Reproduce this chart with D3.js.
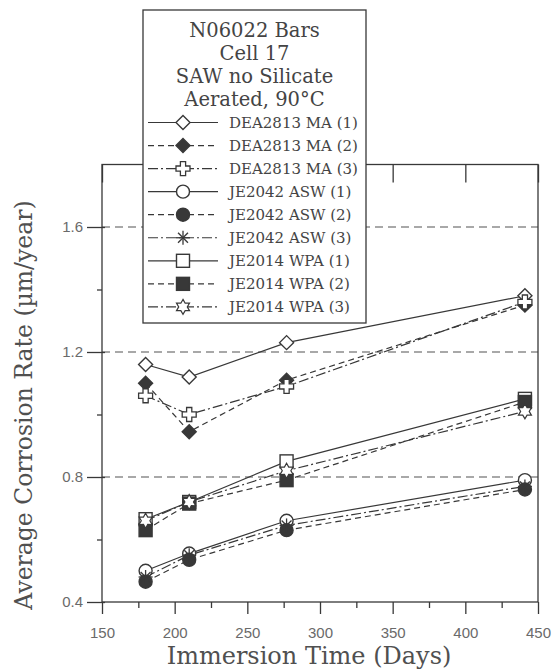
<!DOCTYPE html>
<html>
  <head>
    <meta charset="utf-8">
    <style>
      body { margin: 0; background: #fff; }
      svg { display: block; }
    </style>
    <script src="https://cdn.jsdelivr.net/npm/d3@7"></script>
  </head>
  <body>
    <script>
      // data
      var days = [180, 210, 277, 441];
      var dea1 = [1.16, 1.12, 1.23, 1.38];
      var dea2 = [1.10, 0.945, 1.11, 1.35];
      var dea3 = [1.06, 1.00, 1.09, 1.36];
      var asw1 = [0.50, 0.555, 0.66, 0.79];
      var asw2 = [0.465, 0.535, 0.63, 0.76];
      var asw3 = [0.48, 0.55, 0.645, 0.77];
      var wpa1 = [0.665, 0.72, 0.85, 1.05];
      var wpa2 = [0.63, 0.715, 0.79, 1.04];
      var wpa3 = [0.66, 0.72, 0.82, 1.01];
      var seriesNames = ["DEA2813 MA (1)", "DEA2813 MA (2)", "DEA2813 MA (3)",
                         "JE2042 ASW (1)", "JE2042 ASW (2)", "JE2042 ASW (3)",
                         "JE2014 WPA (1)", "JE2014 WPA (2)", "JE2014 WPA (3)"];
      var seriesValues = [dea1, dea2, dea3, asw1, asw2, asw3, wpa1, wpa2, wpa3];
      var markerKinds = ["diamond", "diamondFill", "plus", "circle", "circleFill",
                         "asterisk", "square", "squareFill", "hexagram"];
      var xTicks = [150, 200, 250, 300, 350, 400, 450];
      var xMinorTicks = [175, 225, 275, 325, 375, 425];
      var yTicks = [0.4, 0.8, 1.2, 1.6];
      var yMinorTicks = [0.6, 1.0, 1.4];
      var legendTitle = ["N06022 Bars", "Cell 17", "SAW no Silicate", "Aerated, 90\u00b0C"];

      var W = 556, H = 669;
      var ink = "#383838";
      var dashes = ["none", "6,4", "10,3,2,3"];

      var x = d3.scaleLinear().domain([150, 450]).range([102, 538]);
      var y = d3.scaleLinear().domain([0.4, 1.8]).range([602, 164.5]);

      var svg = d3.select("body").append("svg")
                  .attr("width", W).attr("height", H);

      // dashed grid lines at the major ticks
      svg.selectAll("line.grid")
         .data(yTicks.slice(1)).enter().append("line")
         .attr("class", "grid")
         .attr("x1", x(150)).attr("x2", x(450))
         .attr("y1", function(d) { return y(d); })
         .attr("y2", function(d) { return y(d); })
         .attr("stroke", "#8c8c8c").attr("stroke-width", 1.3)
         .attr("stroke-dasharray", "8,5");

      // frame
      svg.append("rect")
         .attr("x", x(150)).attr("y", y(1.8))
         .attr("width", x(450) - x(150)).attr("height", y(0.4) - y(1.8))
         .attr("fill", "none").attr("stroke", ink).attr("stroke-width", 1.3);

      // bottom axis
      var xAxis = d3.axisBottom(x).tickValues(xTicks).tickSize(12).tickPadding(13)
                    .tickFormat(d3.format("d"));
      svg.append("g").attr("transform", "translate(0," + y(0.4) + ")").call(xAxis)
         .select(".domain").remove();
      svg.append("g").attr("transform", "translate(0," + y(0.4) + ")")
         .call(d3.axisBottom(x).tickValues(xMinorTicks).tickSize(6).tickFormat(""))
         .select(".domain").remove();

      // top axis, ticks pointing in
      svg.append("g").attr("transform", "translate(0," + y(1.8) + ")")
         .call(d3.axisBottom(x).tickValues(xTicks).tickSize(18).tickFormat(""))
         .select(".domain").remove();

      // left axis
      var yAxis = d3.axisLeft(y).tickValues(yTicks).tickSize(18).tickPadding(4)
                    .tickFormat(d3.format(".1f"));
      svg.append("g").attr("transform", "translate(" + (x(150) + 3) + ",0)").call(yAxis)
         .select(".domain").remove();
      svg.append("g").attr("transform", "translate(" + x(150) + ",0)")
         .call(d3.axisLeft(y).tickValues(yMinorTicks).tickSize(5).tickFormat(""))
         .select(".domain").remove();

      svg.selectAll(".tick line").attr("stroke", ink).attr("stroke-width", 1.3);
      svg.selectAll(".tick text")
         .attr("font-family", "Liberation Sans, Arial, sans-serif")
         .attr("font-size", 15).attr("fill", "#6a6a6a");

      // axis titles
      svg.append("text")
         .attr("x", 309).attr("y", 664)
         .attr("text-anchor", "middle")
         .attr("font-family", "DejaVu Serif, serif").attr("font-size", 24)
         .attr("fill", "#505050").text("Immersion Time (Days)");
      svg.append("text")
         .attr("transform", "translate(32,405) rotate(-90)")
         .attr("text-anchor", "middle")
         .attr("font-family", "DejaVu Serif, serif").attr("font-size", 23.5)
         .attr("fill", "#505050").text("Average Corrosion Rate (\u00b5m/year)");

      // marker drawing
      function marker(g, kind, cx, cy) {
        var fillC = ink;
        if (kind == "diamond" || kind == "diamondFill") {
          var s = 7;
          g.append("path")
           .attr("d", "M" + cx + "," + (cy - s) + "L" + (cx + s) + "," + cy +
                      "L" + cx + "," + (cy + s) + "L" + (cx - s) + "," + cy + "Z")
           .attr("fill", kind == "diamondFill" ? fillC : "#fff")
           .attr("stroke", ink).attr("stroke-width", 1.4);
        } else if (kind == "circle" || kind == "circleFill") {
          g.append("circle").attr("cx", cx).attr("cy", cy).attr("r", 6.5)
           .attr("fill", kind == "circleFill" ? fillC : "#fff")
           .attr("stroke", ink).attr("stroke-width", 1.4);
        } else if (kind == "square" || kind == "squareFill") {
          g.append("rect").attr("x", cx - 6.5).attr("y", cy - 6.5)
           .attr("width", 13).attr("height", 13)
           .attr("fill", kind == "squareFill" ? fillC : "#fff")
           .attr("stroke", ink).attr("stroke-width", 1.4);
        } else if (kind == "plus") {
          var a = 2.6, b = 7;
          var pts = [[-a,-b],[a,-b],[a,-a],[b,-a],[b,a],[a,a],[a,b],[-a,b],[-a,a],[-b,a],[-b,-a],[-a,-a]];
          g.append("path")
           .attr("d", "M" + pts.map(function(p) { return (cx + p[0]) + "," + (cy + p[1]); }).join("L") + "Z")
           .attr("fill", "#fff").attr("stroke", ink).attr("stroke-width", 1.3);
        } else if (kind == "asterisk") {
          for (var i = 0; i < 4; i++) {
            var ang = i * Math.PI / 4;
            g.append("line")
             .attr("x1", cx - 7 * Math.cos(ang)).attr("y1", cy - 7 * Math.sin(ang))
             .attr("x2", cx + 7 * Math.cos(ang)).attr("y2", cy + 7 * Math.sin(ang))
             .attr("stroke", ink).attr("stroke-width", 1.3);
          }
        } else if (kind == "hexagram") {
          var star = [];
          for (var k = 0; k < 12; k++) {
            var r = k % 2 == 0 ? 7.5 : 4.3;
            var t = -Math.PI / 2 + k * Math.PI / 6;
            star.push((cx + r * Math.cos(t)) + "," + (cy + r * Math.sin(t)));
          }
          g.append("path").attr("d", "M" + star.join("L") + "Z")
           .attr("fill", "#fff").attr("stroke", ink).attr("stroke-width", 1.2);
        }
      }

      // series lines, then markers on top
      var line = d3.line()
                   .x(function(d, i) { return x(days[i]); })
                   .y(function(d) { return y(d); });
      seriesValues.forEach(function(vals, si) {
        svg.append("path").datum(vals)
           .attr("d", line)
           .attr("fill", "none").attr("stroke", ink).attr("stroke-width", 1.2)
           .attr("stroke-dasharray", dashes[si % 3]);
      });
      seriesValues.forEach(function(vals, si) {
        var g = svg.append("g");
        vals.forEach(function(v, i) { marker(g, markerKinds[si], x(days[i]), y(v)); });
      });

      // legend
      var lg = svg.append("g");
      lg.append("rect").attr("x", 143).attr("y", 10).attr("width", 223).attr("height", 313)
        .attr("fill", "#fff").attr("stroke", ink).attr("stroke-width", 1.3);
      lg.selectAll("text.title")
        .data(legendTitle).enter().append("text")
        .attr("class", "title")
        .attr("x", 254.5).attr("y", function(d, i) { return 37 + i * 23; })
        .attr("text-anchor", "middle")
        .attr("font-family", "DejaVu Serif, serif").attr("font-size", 19.5)
        .attr("fill", "#444").text(function(d) { return d; });
      seriesNames.forEach(function(name, si) {
        var ly = 122.5 + si * 23.05;
        lg.append("line").attr("x1", 148).attr("x2", 218)
          .attr("y1", ly).attr("y2", ly)
          .attr("stroke", ink).attr("stroke-width", 1.2)
          .attr("stroke-dasharray", dashes[si % 3]);
        marker(lg.append("g"), markerKinds[si], 183, ly);
        lg.append("text").attr("x", 229).attr("y", ly + 5)
          .attr("font-family", "DejaVu Serif, serif").attr("font-size", 15)
          .attr("fill", "#444").text(name);
      });
    </script>
  </body>
</html>
